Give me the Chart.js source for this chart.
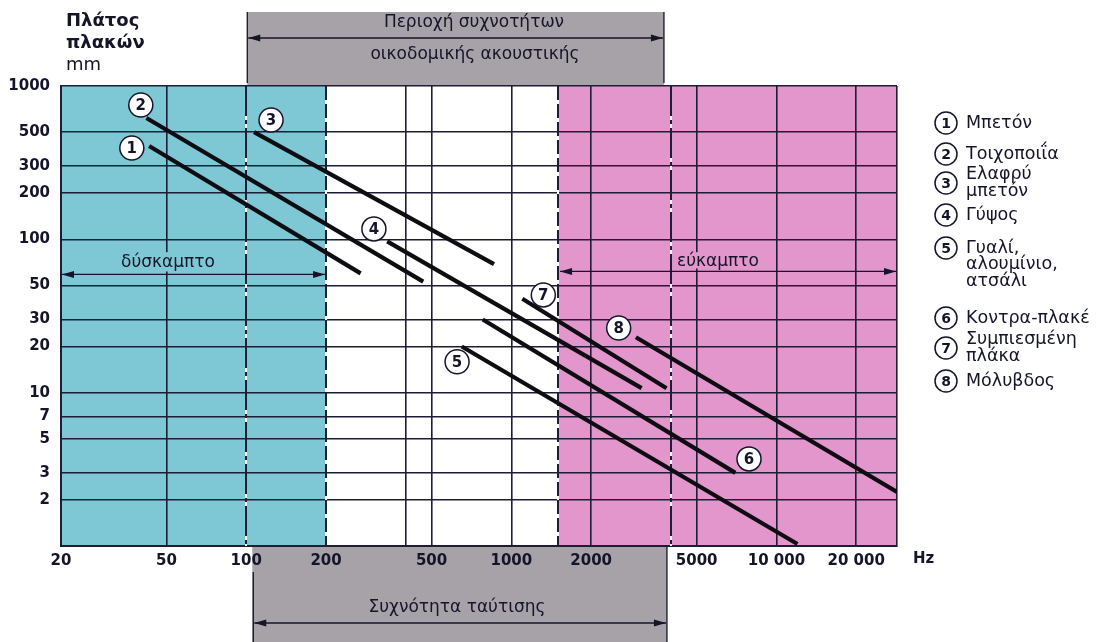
<!DOCTYPE html>
<html>
<head>
<meta charset="utf-8">
<script src="https://cdn.jsdelivr.net/npm/chart.js@4.4.1/dist/chart.umd.min.js"></script>
<style>
  html, body { margin: 0; padding: 0; background: #fff; }
  #wrap { position: relative; width: 1099px; height: 642px; }
</style>
</head>
<body>
<div id="wrap"><canvas id="c" width="1099" height="642"></canvas></div>
<script>
// ---- data ----
// frequency axis (Hz): grid positions and their printed labels
const freqTicks  = [20, 50, 100, 200, 400, 500, 1000, 1500, 2000, 4000, 5000, 10000, 20000, 28500];
const freqLabels = ['20', '50', '100', '200', '', '500', '1000', '', '2000', '', '5000', '10 000', '20 000', ''];
// plate thickness axis (mm)
const thickTicks  = [1, 2, 3, 5, 7, 10, 20, 30, 50, 100, 200, 300, 500, 1000];
const thickLabels = ['', '2', '3', '5', '7', '10', '20', '30', '50', '100', '200', '300', '500', '1000'];

// materials
const materials = ['Μπετόν', 'Τοιχοποιΐα', 'Ελαφρύ\nμπετόν', 'Γύψος', 'Γυαλί,\nαλουμίνιο,\nατσάλι',
                   'Κοντρα-πλακέ', 'Συμπιεσμένη\nπλάκα', 'Μόλυβδος'];
// coincidence frequency line of each material: [from, to] in Hz and in mm
const lineFreq  = [[43, 270], [42, 465], [107, 860], [340, 3100], [650, 12000], [780, 7000], [1100, 3850], [2950, 28500]];
const lineThick = [[406, 60], [618, 53], [500, 69], [97, 10.7], [20, 1.03], [30, 3], [41, 10.7], [23, 2.25]];
// where each numbered tag sits (Hz, mm)
const tagFreq  = [37, 40, 124, 303, 624, 7880, 1320, 2540];
const tagThick = [394, 752, 600, 117, 15.9, 3.7, 43.4, 26.4];

// frequency bands
const stiffBand    = [20, 200];      // δύσκαμπτο
const flexBand     = [1500, 28500];  // εύκαμπτο
const buildingBand = [100, 4000];    // building acoustics range
const bandArrowMM  = 59;             // thickness level of the stiff / flexible arrows
const bandTextMM   = 71;

// ---- styling ----
const INK = '#15152a';
const GRID = '#1d1d35';
const CYAN = 'rgb(126,200,214)';
const PINK = 'rgb(226,150,204)';
const GREY = 'rgb(167,162,168)';
const FONT = '"DejaVu Sans", sans-serif';
const dashedAt = [200, 1500];
const dashDotAt = [100, 4000];

function arrowHead(ctx, x, y, dir) {
  ctx.beginPath();
  ctx.moveTo(x, y);
  ctx.lineTo(x - dir * 12, y - 3.5);
  ctx.lineTo(x - dir * 12, y + 3.5);
  ctx.closePath();
  ctx.fill();
}
function hArrow(ctx, x1, x2, y, both) {
  ctx.save();
  ctx.strokeStyle = INK; ctx.fillStyle = INK; ctx.lineWidth = 1.3;
  ctx.beginPath(); ctx.moveTo(x1, y); ctx.lineTo(x2, y); ctx.stroke();
  arrowHead(ctx, x2, y, 1);
  if (both) arrowHead(ctx, x1, y, -1);
  ctx.restore();
}
function circled(ctx, x, y, r, txt, size) {
  ctx.save();
  ctx.beginPath(); ctx.arc(x, y, r, 0, Math.PI * 2);
  ctx.fillStyle = '#fff'; ctx.fill();
  ctx.lineWidth = 1.5; ctx.strokeStyle = INK; ctx.stroke();
  ctx.fillStyle = INK;
  ctx.font = 'bold ' + size + 'px ' + FONT;
  ctx.textAlign = 'center'; ctx.textBaseline = 'middle';
  ctx.fillText(txt, x, y + 1);
  ctx.restore();
}

const decorations = {
  id: 'decorations',
  beforeDraw(chart) {
    const { ctx, chartArea: a, scales: { x } } = chart;
    ctx.save();
    ctx.fillStyle = '#fff';
    ctx.fillRect(0, 0, chart.width, chart.height);
    // stiff and flexible regions
    const s0 = x.getPixelForValue(stiffBand[0]), s1 = x.getPixelForValue(stiffBand[1]);
    const f0 = x.getPixelForValue(flexBand[0]), f1 = x.getPixelForValue(flexBand[1]);
    ctx.fillStyle = CYAN; ctx.fillRect(s0, a.top, s1 - s0, a.bottom - a.top);
    ctx.fillStyle = PINK; ctx.fillRect(f0, a.top, f1 - f0, a.bottom - a.top);
    // building acoustics band, above and below the plot
    const b0 = x.getPixelForValue(buildingBand[0]), b1 = x.getPixelForValue(buildingBand[1]);
    const tl = b0 + 1, tr = b1 - 7, bl = b0 + 6, br = b1 - 4;
    ctx.fillStyle = GREY;
    ctx.fillRect(tl, 12, tr - tl, a.top - 12);
    ctx.fillRect(bl, a.bottom, br - bl, chart.height - a.bottom);
    ctx.strokeStyle = INK; ctx.lineWidth = 1.3;
    ctx.beginPath();
    ctx.moveTo(tl, 12); ctx.lineTo(tl, a.top - 3);
    ctx.moveTo(tr, 12); ctx.lineTo(tr, a.top - 3);
    ctx.moveTo(bl + 1, a.bottom + 26); ctx.lineTo(bl + 1, chart.height);
    ctx.moveTo(br, a.bottom); ctx.lineTo(br, chart.height);
    ctx.stroke();
    hArrow(ctx, tl + 1, tr - 1, 38, true);
    hArrow(ctx, bl + 2, br - 1, 623, true);
    ctx.fillStyle = INK;
    ctx.font = '17px ' + FONT;
    ctx.textAlign = 'center'; ctx.textBaseline = 'middle';
    ctx.fillText('Περιοχή συχνοτήτων', 474, 23);
    ctx.fillText('οικοδομικής ακουστικής', 475, 55);
    ctx.fillText('Συχνότητα ταύτισης', 457, 608);
    ctx.restore();
  },
  beforeDatasetsDraw(chart) {
    const { ctx, chartArea: a, scales: { x, y } } = chart;
    ctx.save();
    // band borders: white line under black dashes
    const drawSpecial = (v, pattern) => {
      const px = Math.round(x.getPixelForValue(v));
      ctx.setLineDash([]);
      ctx.strokeStyle = '#fff'; ctx.lineWidth = 2;
      ctx.beginPath(); ctx.moveTo(px, a.top); ctx.lineTo(px, a.bottom); ctx.stroke();
      ctx.setLineDash(pattern);
      ctx.strokeStyle = GRID; ctx.lineWidth = 2;
      ctx.beginPath(); ctx.moveTo(px, a.top); ctx.lineTo(px, a.bottom); ctx.stroke();
    };
    dashedAt.forEach(v => drawSpecial(v, [14, 4]));
    dashDotAt.forEach(v => drawSpecial(v, [30, 4, 4, 4]));
    ctx.setLineDash([]);

    // stiff / flexible annotations
    const ay = y.getPixelForValue(bandArrowMM);
    const ty = y.getPixelForValue(bandTextMM);
    ctx.font = '17px ' + FONT;
    ctx.textAlign = 'center'; ctx.textBaseline = 'middle';
    const stiffX = 168, flexX = 718;
    let w = ctx.measureText('δύσκαμπτο').width;
    ctx.fillStyle = CYAN; ctx.fillRect(stiffX - w / 2 - 3, ty - 10, w + 6, ay - ty + 7);
    w = ctx.measureText('εύκαμπτο').width;
    ctx.fillStyle = PINK; ctx.fillRect(flexX - w / 2 - 3, ty - 10, w + 6, ay - ty + 4);
    ctx.fillStyle = INK;
    ctx.fillText('δύσκαμπτο', stiffX, ty);
    ctx.fillText('εύκαμπτο', flexX, ty - 1);
    hArrow(ctx, x.getPixelForValue(stiffBand[0]) + 1, x.getPixelForValue(stiffBand[1]) - 1, ay, true);
    hArrow(ctx, x.getPixelForValue(flexBand[0]) + 2, x.getPixelForValue(flexBand[1]) - 1, ay - 3, true);
    ctx.restore();
  },
  afterDatasetsDraw(chart) {
    const { ctx, scales: { x, y } } = chart;
    ctx.save();
    // numbered tags on the lines
    tagFreq.forEach((f, i) => {
      circled(ctx, x.getPixelForValue(f), y.getPixelForValue(tagThick[i]), 12, String(i + 1), 15);
    });
    // axis titles
    ctx.fillStyle = INK;
    ctx.textAlign = 'left'; ctx.textBaseline = 'middle';
    ctx.font = 'bold 18px ' + FONT;
    ctx.fillText('Πλάτος', 66, 21);
    ctx.fillText('πλακών', 66, 43);
    ctx.font = '18px ' + FONT;
    ctx.fillText('mm', 66, 65);
    ctx.font = 'bold 15px ' + FONT;
    ctx.fillText('Hz', 913, 559);
    // material key
    const rowY = [123, 154, 183, 215, 248, 318, 348, 381];
    const gap = [0, 0, 16.5, 0, 16.5, 0, 16.5, 0];
    materials.forEach((m, i) => {
      circled(ctx, 946, rowY[i], 11, String(i + 1), 14);
      const lines = m.split('\n');
      const y0 = lines.length === 3 ? rowY[i] : rowY[i] - (lines.length - 1) * gap[i] / 2;
      ctx.fillStyle = INK;
      ctx.font = '17.5px ' + FONT;
      ctx.textAlign = 'left'; ctx.textBaseline = 'middle';
      lines.forEach((ln, k) => ctx.fillText(ln, 966, y0 + k * gap[i]));
    });
    ctx.restore();
  }
};

const specialFreq = dashedAt.concat(dashDotAt);

new Chart(document.getElementById('c'), {
  type: 'line',
  data: {
    datasets: materials.map((m, i) => ({
      label: m.replace(/\n/g, ' '),
      data: [{ x: lineFreq[i][0], y: lineThick[i][0] }, { x: lineFreq[i][1], y: lineThick[i][1] }],
      borderColor: '#0d0d12',
      borderWidth: 4.2,
      pointRadius: 0,
      fill: false,
      tension: 0
    }))
  },
  options: {
    responsive: false,
    animation: false,
    events: [],
    layout: { padding: { left: 0, top: 86, right: 202, bottom: 0 } },
    plugins: { legend: { display: false }, tooltip: { enabled: false } },
    scales: {
      x: {
        type: 'logarithmic',
        min: freqTicks[0],
        max: freqTicks[freqTicks.length - 1],
        afterBuildTicks: ax => { ax.ticks = freqTicks.map(v => ({ value: v })); },
        afterFit: s => { s.height = 96; },
        ticks: {
          autoSkip: false, maxRotation: 0, minRotation: 0, padding: 6,
          color: INK,
          font: { family: FONT, weight: 'bold', size: 15 },
          callback: (v, i) => freqLabels[i]
        },
        grid: {
          drawTicks: false,
          lineWidth: 1.6,
          color: c => (c.tick && specialFreq.includes(c.tick.value)) ? 'rgba(0,0,0,0)' : GRID
        },
        border: { color: GRID, width: 2 }
      },
      y: {
        type: 'logarithmic',
        min: thickTicks[0],
        max: thickTicks[thickTicks.length - 1],
        afterBuildTicks: ax => { ax.ticks = thickTicks.map(v => ({ value: v })); },
        afterFit: s => { s.width = 61; },
        ticks: {
          autoSkip: false, padding: 11,
          color: INK,
          font: { family: FONT, weight: 'bold', size: 15 },
          callback: (v, i) => thickLabels[i]
        },
        grid: { drawTicks: false, lineWidth: 1.6, color: GRID },
        border: { color: GRID, width: 2 }
      }
    }
  },
  plugins: [decorations]
});
</script>
</body>
</html>
